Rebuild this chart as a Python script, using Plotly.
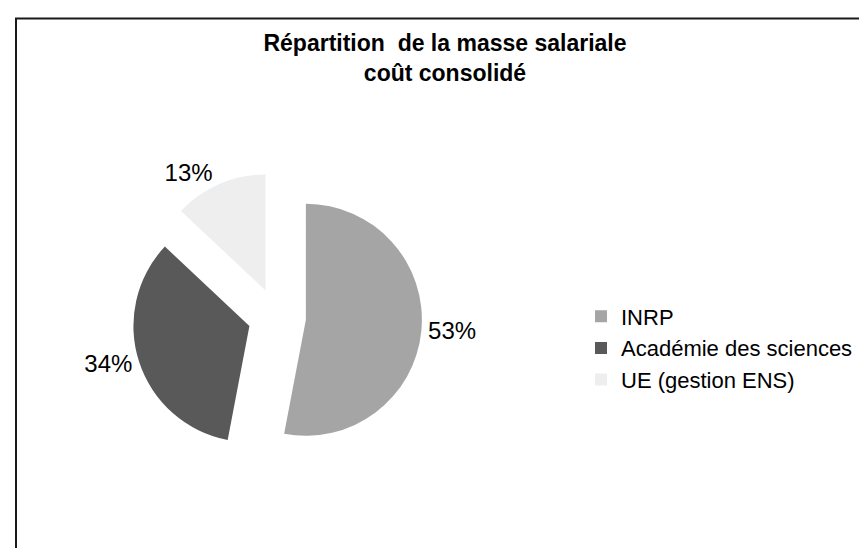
import plotly.graph_objects as go

labels = ["INRP", "Académie des sciences", "UE (gestion ENS)"]
values = [53, 34, 13]
colors = ["#a5a5a5", "#595959", "#eeeeee"]
title_lines = ["Répartition\u00a0 de la masse salariale", "coût consolidé"]

W, H = 867, 548

fig = go.Figure(go.Pie(
    labels=labels,
    values=values,
    sort=False,
    direction="clockwise",
    rotation=0,
    pull=[0.25, 0.25, 0.25],
    marker=dict(colors=colors, line=dict(width=0)),
    textinfo="percent",
    textposition="outside",
    outsidetextfont=dict(family="Liberation Sans, Arial, sans-serif", size=24, color="#000000"),
    domain=dict(x=[124 / W, 414 / W], y=[1 - 454 / H, 1 - 164 / H]),
    hoverinfo="label+percent",
))

fig.update_layout(
    width=W, height=H,
    margin=dict(l=0, r=0, t=0, b=0),
    paper_bgcolor="#ffffff",
    plot_bgcolor="#ffffff",
    font=dict(family="Liberation Sans, Arial, sans-serif", color="#000000"),
    title=dict(
        text="<b>" + "<br>".join(title_lines) + "</b>",
        x=437 / W, xanchor="center",
        y=1 - 43 / H, yanchor="top",
        font=dict(size=23, color="#000000"),
    ),
    legend=dict(
        x=573 / W, xanchor="left",
        y=1 - 340 / H, yanchor="middle",
        font=dict(size=22, color="#000000"),
        bgcolor="rgba(0,0,0,0)",
    ),
    shapes=[dict(
        type="rect", xref="paper", yref="paper",
        x0=8 / W, x1=1.05, y0=-0.05, y1=1 - 10.5 / H,
        line=dict(color="#1a1a1a", width=2),
        fillcolor="rgba(0,0,0,0)",
        layer="below",
    )],
)

fig.write_html("out.html")
